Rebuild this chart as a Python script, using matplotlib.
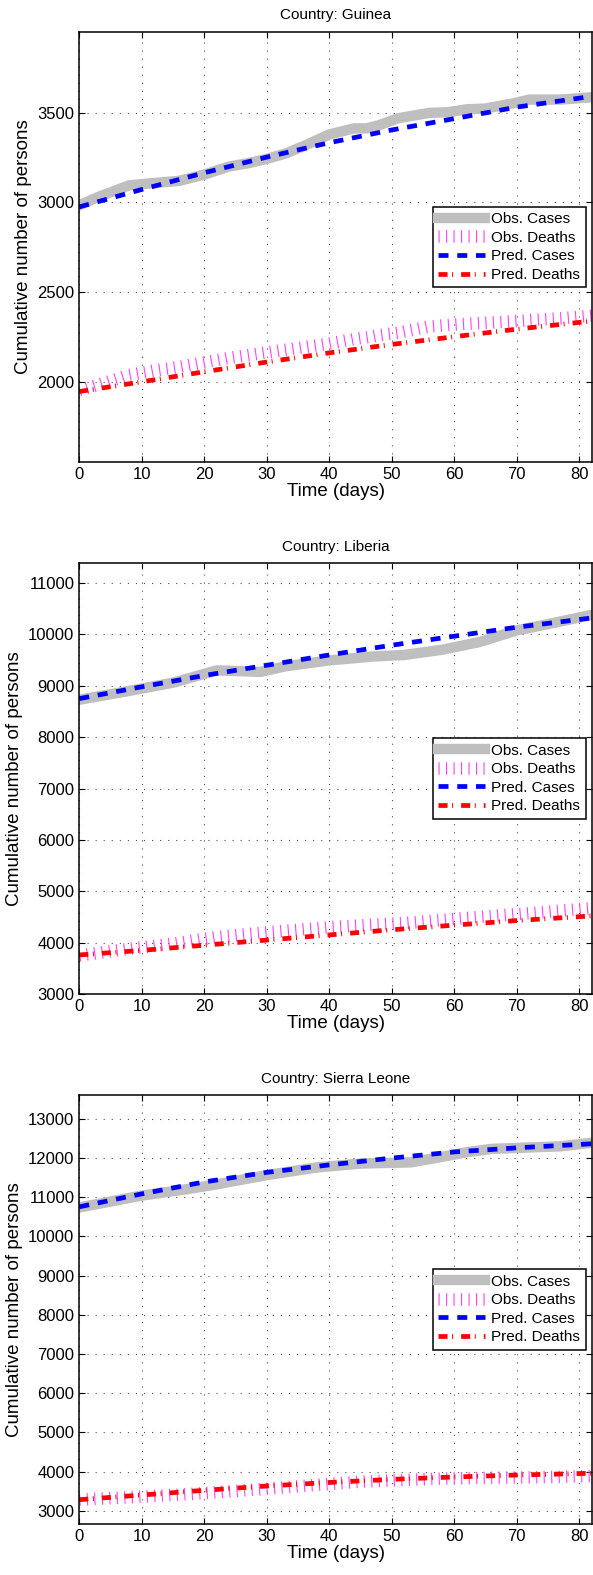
import numpy as np
import matplotlib
matplotlib.use('Agg')
import matplotlib.pyplot as plt

plt.rcParams['font.family'] = ['Liberation Sans', 'DejaVu Sans']
plt.rcParams['lines.scale_dashes'] = False

# ---- Guinea ----
gn_obs_days = [0, 3, 8, 12, 16, 20, 24, 27, 30, 33, 36, 40, 44, 46, 48, 51, 56, 59, 62, 65, 70, 72, 77, 82]
gn_obs_cases = [2985, 3030, 3095, 3108, 3120, 3155, 3200, 3218, 3242, 3272, 3315, 3378, 3412, 3412,
                3430, 3468, 3498, 3502, 3518, 3522, 3555, 3572, 3572, 3585]
gn_obs_deaths = [1955, 1985, 2040, 2065, 2085, 2110, 2135, 2150, 2165, 2180, 2195, 2215, 2240, 2250,
                 2262, 2275, 2310, 2318, 2325, 2330, 2340, 2345, 2355, 2370]
gn_pred_days = [0, 10, 20, 30, 40, 50, 60, 70, 82]
gn_pred_cases = [2975, 3072, 3165, 3252, 3332, 3403, 3466, 3530, 3590]
gn_pred_deaths = [1948, 2002, 2058, 2112, 2163, 2210, 2253, 2295, 2340]

# ---- Liberia ----
lr_obs_days = [0, 8, 15, 22, 29, 33, 40, 47, 52, 58, 64, 70, 75, 82]
lr_obs_cases = [8728, 8900, 9060, 9300, 9270, 9380, 9494, 9570, 9600, 9700, 9850, 10078, 10200, 10380]
lr_obs_deaths = [3751, 3880, 3980, 4110, 4190, 4230, 4300, 4350, 4380, 4440, 4500, 4555, 4600, 4670]
lr_pred_days = [0, 10, 20, 30, 40, 50, 60, 70, 82]
lr_pred_cases = [8750, 8980, 9200, 9400, 9600, 9790, 9965, 10140, 10320]
lr_pred_deaths = [3760, 3850, 3950, 4050, 4150, 4250, 4340, 4430, 4520]

# ---- Sierra Leone ----
sl_obs_days = [0, 10, 17, 22, 30, 38, 45, 53, 57, 62, 66, 72, 77, 82]
sl_obs_cases = [10739, 11043, 11200, 11330, 11565, 11760, 11860, 11890, 12000, 12150, 12235, 12270,
                12300, 12391]
sl_obs_deaths = [3280, 3360, 3420, 3470, 3560, 3660, 3740, 3790, 3815, 3830, 3840, 3850, 3865, 3880]
sl_pred_days = [0, 10, 20, 30, 40, 50, 60, 70, 82]
sl_pred_cases = [10756, 11087, 11391, 11635, 11826, 12000, 12157, 12261, 12365]
sl_pred_deaths = [3280, 3400, 3520, 3630, 3720, 3800, 3860, 3910, 3955]

countries = ['Guinea', 'Liberia', 'Sierra Leone']
ylims = [(1556, 3948), (3000, 11390), (2660, 13610)]
yticks = [np.arange(2000, 3501, 500), np.arange(3000, 11001, 1000), np.arange(3000, 13001, 1000)]
panels = [
    (gn_obs_days, gn_obs_cases, gn_obs_deaths, gn_pred_days, gn_pred_cases, gn_pred_deaths),
    (lr_obs_days, lr_obs_cases, lr_obs_deaths, lr_pred_days, lr_pred_cases, lr_pred_deaths),
    (sl_obs_days, sl_obs_cases, sl_obs_deaths, sl_pred_days, sl_pred_cases, sl_pred_deaths),
]

W, H = 593, 1575
fig = plt.figure(figsize=(W / 100, H / 100), dpi=100)
# axes boxes in pixels: (top, bottom)
boxes = [(32, 462), (563, 994), (1095, 1524)]
left, right = 79.3, 591.7

for i, (name, data) in enumerate(zip(countries, panels)):
    top, bot = boxes[i]
    ax = fig.add_axes([left / W, (H - bot) / H, (right - left) / W, (bot - top) / H])
    od, oc, odt, pd_, pc, pdt = data

    ax.plot(od, oc, c=(0.75, 0.75, 0.75), lw=7.5, solid_joinstyle='round', label='Obs. Cases')
    ax.plot(od, odt, c=(1, 0.25, 1), lw=9, ls=(0, (0.8, 4.6)), label='Obs. Deaths')
    ax.plot(pd_, pc, c='blue', lw=3.4, ls=(0, (7.2, 6.3)), label='Pred. Cases')
    ax.plot(pd_, pdt, c='red', lw=3.4, ls=(0, (6.5, 3.3, 0.7, 5.8)), label='Pred. Deaths')

    ax.set_xlim(0, 82)
    ax.set_ylim(*ylims[i])
    ax.set_xticks(np.arange(0, 81, 10))
    ax.set_yticks(yticks[i])
    ax.grid(True, ls=(0, (0.8, 5.0)), color='0.3', lw=0.8)
    ax.tick_params(direction='in', top=True, right=True, labelsize=12, length=4)
    for s in ax.spines.values():
        s.set_linewidth(1.1)
    ax.set_title('Country: ' + name, fontsize=11, pad=9)
    ax.set_xlabel('Time (days)', fontsize=13.5, labelpad=1)
    ax.set_ylabel('Cumulative number of persons', fontsize=13.5, labelpad=4)

    leg = ax.legend(loc='center right', fontsize=11, handlelength=3.1, labelspacing=0.3,
                    fancybox=False, framealpha=1, edgecolor='black', borderaxespad=0.4,
                    handletextpad=0.4, borderpad=0.35)
    leg.get_frame().set_linewidth(1.1)

fig.savefig('out.png', dpi=100)
